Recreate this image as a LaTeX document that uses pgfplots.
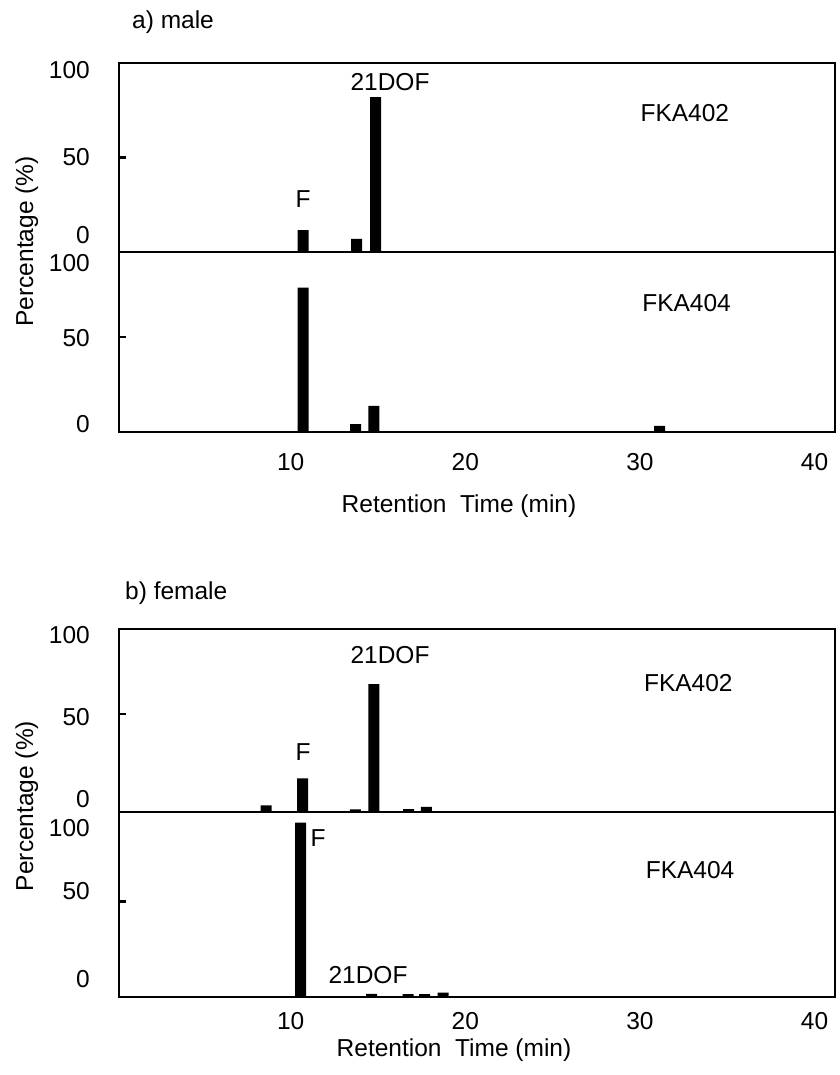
\documentclass[border=0pt]{standalone}
\usepackage{fontspec}
\setmainfont{Liberation Sans}
\usepackage{pgfplots}
\pgfplotsset{compat=1.18}
\begin{document}
\fontsize{24.5}{28}\selectfont
\begin{tikzpicture}[x=1pt,y=1pt]
\useasboundingbox (0pt,0pt) rectangle (839pt,-1075pt);
\tikzset{lbl/.style={anchor=base, inner sep=0pt, font=\fontsize{24.5}{28}\selectfont}}
\pgfplotsset{
  panel/.style={
    scale only axis, width=716pt, xmin=0, xmax=41, ymin=0,
    enlargelimits=false, clip=false,
    axis line style={line width=2.7pt},
    ybar, bar width=11pt,
    ytick={50}, yticklabels={,,}, ytick pos=left,
    major tick length=7pt,
    ytick style={line width=2.7pt, black},
    xtick style={draw=none},
    /pgf/number format/assume math mode=true,
    tick label style={font=\fontsize{24.5}{28}\selectfont},
    yticklabel style={inner sep=0pt, anchor=east, xshift=-29pt},
    extra y tick style={major tick length=0pt},
    xtick=\empty,
  },
  bottompanel/.style={
    xtick={10,20,30,40},
    xticklabel style={inner sep=0pt, anchor=north, xshift=-3pt},
  },
}
% ---------------- a) male ----------------
\node[anchor=base west, inner sep=0pt] at (132pt,-29pt) {a) male};
\begin{axis}[panel, at={(119pt,-252pt)}, anchor=south west, height=189pt, ymax=100,
  extra y ticks={9,50,96.3}, extra y tick labels={0,50,100}]
\addplot[fill=black, draw=none] coordinates {(10.55,11.6) (13.6,6.9) (14.7,82)};
\node[lbl] at (axis cs:10.54,23.3) {F};
\node[lbl] at (axis cs:15.52,85.7) {21DOF};
\node[lbl] at (axis cs:32.4,69) {FKA402};
\end{axis}
\begin{axis}[panel, bottompanel, at={(119pt,-432pt)}, anchor=south west, height=180pt, ymax=94.7,
  extra y ticks={4.2,49.5,88.8}, extra y tick labels={0,50,100},
  xticklabel style={yshift=-14pt}]
\addplot[fill=black, draw=none] coordinates {(10.55,76) (13.55,4.2) (14.6,13.7) (30.95,3.2)};
\node[lbl] at (axis cs:32.5,63.2) {FKA404};
\end{axis}
\node[anchor=base, inner sep=0pt] at (459pt,-512pt) {Retention\ \ Time (min)};
\node[rotate=90, anchor=base, inner sep=0pt] at (33pt,-241.5pt) {Percentage (\%)};
% ---------------- b) female ----------------
\node[anchor=base west, inner sep=0pt] at (125pt,-599pt) {b) female};
\begin{axis}[panel, at={(119pt,-812pt)}, anchor=south west, height=183pt, ymax=93.4,
  extra y ticks={6.6,48.5,90.3}, extra y tick labels={0,50,100}]
\addplot[fill=black, draw=none] coordinates {(8.42,3.4) (10.52,17.2) (13.53,1.4) (14.6,65.3) (16.58,1.5) (17.6,2.6)};
\node[lbl] at (axis cs:10.54,26.5) {F};
\node[lbl] at (axis cs:15.52,76) {21DOF};
\node[lbl] at (axis cs:32.6,61.4) {FKA402};
\end{axis}
\begin{axis}[panel, bottompanel, at={(119pt,-997pt)}, anchor=south west, height=185pt, ymax=97,
  extra y ticks={9.4,55.3,88.7}, extra y tick labels={0,50,100},
  xticklabel style={yshift=-8pt}]
\addplot[fill=black, draw=none] coordinates {(10.4,91.4) (14.47,1.7) (16.55,1.5) (17.5,1.5) (18.56,2.3)};
\node[lbl] at (axis cs:11.4,78.7) {F};
\node[lbl] at (axis cs:14.26,7.3) {21DOF};
\node[lbl] at (axis cs:32.7,62.4) {FKA404};
\end{axis}
\node[anchor=base, inner sep=0pt] at (454pt,-1056pt) {Retention\ \ Time (min)};
\node[rotate=90, anchor=base, inner sep=0pt] at (33pt,-806pt) {Percentage (\%)};
\end{tikzpicture}
\end{document}
